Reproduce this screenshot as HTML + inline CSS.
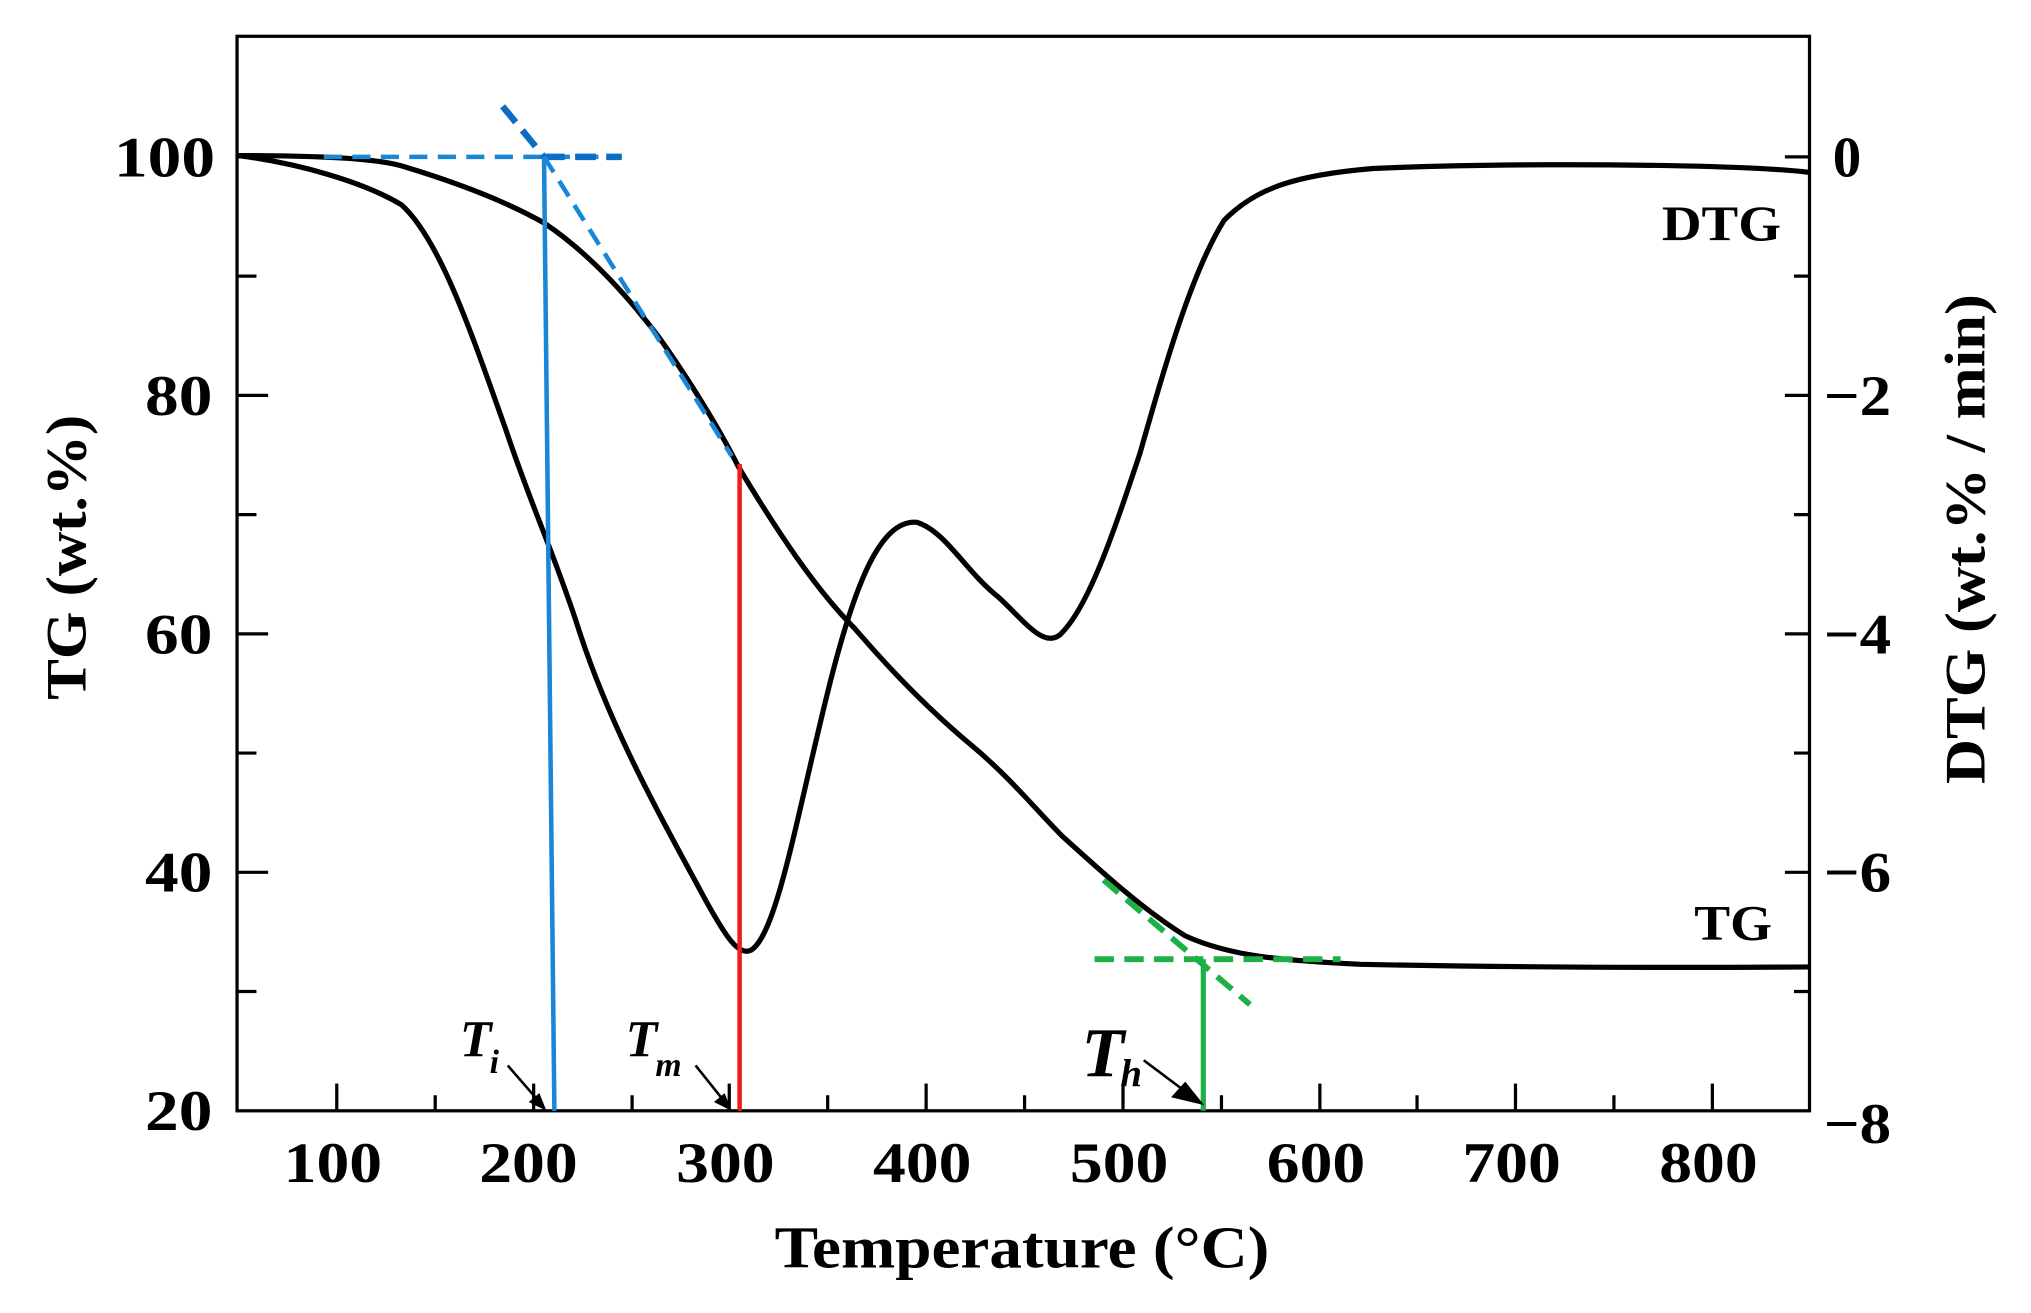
<!DOCTYPE html>
<html><head><meta charset="utf-8"><style>
html,body{margin:0;padding:0;background:#fff;}
svg{display:block;}
text{font-family:"Liberation Serif",serif;font-weight:bold;fill:#000;}
</style></head><body>
<svg width="2031" height="1313" viewBox="0 0 1568 1013" preserveAspectRatio="none" xmlns="http://www.w3.org/2000/svg">
<rect width="1568" height="1013" fill="#fff"/>
<rect x="183" y="28" width="1214" height="829" fill="none" stroke="#000" stroke-width="2.5"/>
<g stroke="#000" stroke-width="2.5">
<line x1="183" y1="121" x2="207" y2="121"/><line x1="183" y1="213" x2="198" y2="213"/>
<line x1="183" y1="305" x2="207" y2="305"/><line x1="183" y1="397" x2="198" y2="397"/>
<line x1="183" y1="489" x2="207" y2="489"/><line x1="183" y1="581" x2="198" y2="581"/>
<line x1="183" y1="673" x2="207" y2="673"/><line x1="183" y1="765" x2="198" y2="765"/>
<line x1="1397" y1="121" x2="1378" y2="121"/><line x1="1397" y1="213" x2="1385" y2="213"/>
<line x1="1397" y1="305" x2="1378" y2="305"/><line x1="1397" y1="397" x2="1385" y2="397"/>
<line x1="1397" y1="489" x2="1378" y2="489"/><line x1="1397" y1="581" x2="1385" y2="581"/>
<line x1="1397" y1="673" x2="1378" y2="673"/><line x1="1397" y1="765" x2="1385" y2="765"/>
<line x1="260" y1="857" x2="260" y2="836"/><line x1="336" y1="857" x2="336" y2="845"/>
<line x1="412" y1="857" x2="412" y2="836"/><line x1="488" y1="857" x2="488" y2="845"/>
<line x1="563" y1="857" x2="563" y2="836"/><line x1="639" y1="857" x2="639" y2="845"/>
<line x1="715" y1="857" x2="715" y2="836"/><line x1="791" y1="857" x2="791" y2="845"/>
<line x1="867" y1="857" x2="867" y2="836"/><line x1="943" y1="857" x2="943" y2="845"/>
<line x1="1019" y1="857" x2="1019" y2="836"/><line x1="1094" y1="857" x2="1094" y2="845"/>
<line x1="1170" y1="857" x2="1170" y2="836"/><line x1="1246" y1="857" x2="1246" y2="845"/>
<line x1="1322" y1="857" x2="1322" y2="836"/>
</g>
<g font-size="44">
<text x="88" y="136" textLength="78" lengthAdjust="spacingAndGlyphs">100</text>
<text x="112" y="320" textLength="52" lengthAdjust="spacingAndGlyphs">80</text>
<text x="112" y="504" textLength="52" lengthAdjust="spacingAndGlyphs">60</text>
<text x="112" y="688" textLength="52" lengthAdjust="spacingAndGlyphs">40</text>
<text x="112" y="872" textLength="52" lengthAdjust="spacingAndGlyphs">20</text>
</g>
<g font-size="44">
<text x="1415" y="136">0</text>
<text x="1408" y="320" textLength="52" lengthAdjust="spacingAndGlyphs">−2</text>
<text x="1408" y="504" textLength="52" lengthAdjust="spacingAndGlyphs">−4</text>
<text x="1408" y="688" textLength="52" lengthAdjust="spacingAndGlyphs">−6</text>
<text x="1408" y="882" textLength="52" lengthAdjust="spacingAndGlyphs">−8</text>
</g>
<g font-size="44">
<text x="219" y="912" textLength="76" lengthAdjust="spacingAndGlyphs">100</text>
<text x="370" y="912" textLength="76" lengthAdjust="spacingAndGlyphs">200</text>
<text x="522" y="912" textLength="76" lengthAdjust="spacingAndGlyphs">300</text>
<text x="674" y="912" textLength="76" lengthAdjust="spacingAndGlyphs">400</text>
<text x="826" y="912" textLength="76" lengthAdjust="spacingAndGlyphs">500</text>
<text x="978" y="912" textLength="76" lengthAdjust="spacingAndGlyphs">600</text>
<text x="1129" y="912" textLength="76" lengthAdjust="spacingAndGlyphs">700</text>
<text x="1281" y="912" textLength="76" lengthAdjust="spacingAndGlyphs">800</text>
</g>
<text x="598" y="978" font-size="46" textLength="382" lengthAdjust="spacingAndGlyphs">Temperature (°C)</text>
<text transform="translate(66,540) rotate(-90)" font-size="44" textLength="220" lengthAdjust="spacingAndGlyphs">TG (wt.%)</text>
<text transform="translate(1532,605) rotate(-90)" font-size="44" textLength="378" lengthAdjust="spacingAndGlyphs">DTG  (wt.% / min)</text>
<text x="1283" y="185" font-size="38" textLength="92" lengthAdjust="spacingAndGlyphs">DTG</text>
<text x="1308" y="725" font-size="38" textLength="60" lengthAdjust="spacingAndGlyphs">TG</text>
<path fill="none" stroke="#000" stroke-width="4" d="M184,120 C240,120 290,122 310,128 C350,140 390,155 420,172 C450,192 480,222 510,262 C530,290 555,330 570,360 C600,410 630,455 660,485 C690,520 720,550 750,575 C780,600 800,625 820,645 C850,672 880,700 915,722 C950,738 990,741 1050,744 C1150,746 1250,747 1397,746"/>
<path fill="none" stroke="#000" stroke-width="4" d="M184,120 C230,126 280,140 310,158 C340,185 365,260 390,330 C410,390 425,420 445,480 C470,560 510,630 545,695 C560,722 570,738 580,733 C600,720 615,630 640,530 C660,450 680,400 708,403 C730,410 745,440 770,460 C790,478 805,500 818,490 C840,470 860,410 880,350 C900,280 920,210 945,170 C970,145 1000,135 1060,130 C1150,126 1250,127 1300,128 C1350,129 1380,131 1397,133"/>
<line x1="420" y1="121" x2="428" y2="857" stroke="#1a86d6" stroke-width="3.5"/>
<line x1="250" y1="121" x2="480" y2="121" stroke="#1a86d6" stroke-width="3.5" stroke-dasharray="14,8"/>
<line x1="420" y1="121" x2="480" y2="121" stroke="#0a6fc4" stroke-width="5" stroke-dasharray="16,8"/>
<line x1="388" y1="82" x2="420" y2="121" stroke="#0a6fc4" stroke-width="5" stroke-dasharray="16,8"/>
<line x1="420" y1="121" x2="565" y2="352" stroke="#1a86d6" stroke-width="3.5" stroke-dasharray="14,8"/>
<line x1="571" y1="358" x2="571" y2="857" stroke="#ee1c1c" stroke-width="3.5"/>
<line x1="852" y1="679" x2="965" y2="775" stroke="#1db046" stroke-width="4.5" stroke-dasharray="15,8"/>
<line x1="845" y1="740" x2="1035" y2="740" stroke="#1db046" stroke-width="4.5" stroke-dasharray="15,8"/>
<line x1="929" y1="740" x2="929" y2="857" stroke="#1db046" stroke-width="4"/>
<text x="355" y="815" font-size="40" font-style="italic">T</text><text x="378" y="828" font-size="26" font-style="italic">i</text>
<text x="483" y="815" font-size="40" font-style="italic">T</text><text x="506" y="830" font-size="26" font-style="italic">m</text>
<text x="835" y="830" font-size="54" font-style="italic">T</text><text x="865" y="838" font-size="30" font-style="italic">h</text>
<g stroke="#000" stroke-width="2" fill="#000">
<line x1="392" y1="822" x2="418" y2="852"/><path d="M420,855 L410,850 L416,845 Z"/>
<line x1="537" y1="822" x2="561" y2="852"/><path d="M563,855 L553,850 L559,845 Z"/>
<line x1="883" y1="818" x2="923" y2="848"/><path d="M927,851 L906,846 L915,836 Z"/>
</g>
</svg>
</body></html>
